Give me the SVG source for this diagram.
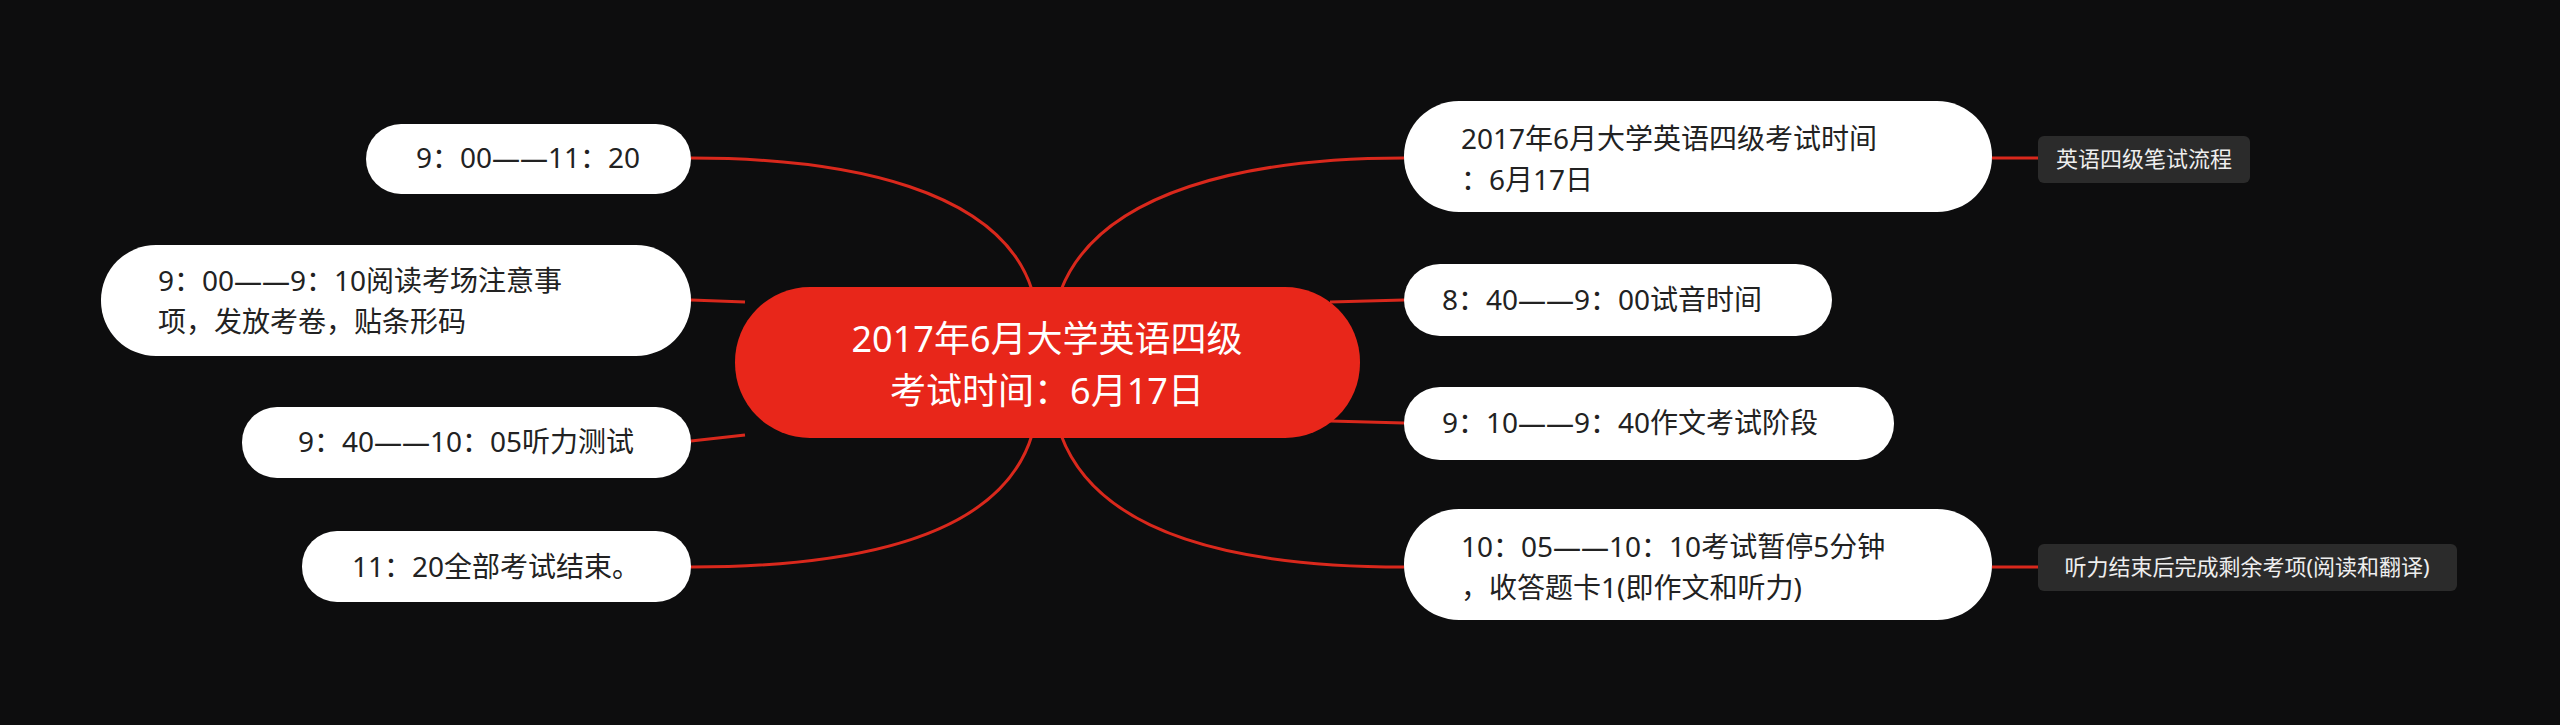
<svg xmlns="http://www.w3.org/2000/svg" width="2560" height="725" viewBox="0 0 2560 725">
<style>
.c{fill:none;stroke:#d9281c;stroke-width:3}
.n{fill:#ffffff}
.t{font-family:"Noto Sans","Noto Sans CJK SC",sans-serif;font-size:28px;fill:#222}
.l{fill:#2b2b2b}
.lt{font-family:"Noto Sans","Noto Sans CJK SC",sans-serif;font-size:22px;fill:#eeeeee}
.ct{font-family:"Noto Sans","Noto Sans CJK SC",sans-serif;font-size:36px;fill:#ffffff}
</style>
<rect width="2560" height="725" fill="#0d0d0e"/>
<g id="connectors">
<path class="c" d="M1032,290 C1000,190 850,158 691,158"/>
<path class="c" d="M745,302 L691,300"/>
<path class="c" d="M745,435 L691,441"/>
<path class="c" d="M1032,435 C1000,540 850,567 691,567"/>
<path class="c" d="M1061,290 C1100,190 1250,158 1404,158"/>
<path class="c" d="M1330,302 L1404,300"/>
<path class="c" d="M1330,421 L1404,423"/>
<path class="c" d="M1061,435 C1100,540 1250,567 1404,567"/>
<path class="c" d="M1992,158 L2038,158"/>
<path class="c" d="M1992,567 L2038,567"/>
</g>
<g id="center"><rect x="735" y="287" width="625" height="151" rx="75" fill="#e8261a"/>
<text class="ct" x="1047" y="352" text-anchor="middle">2017年6月大学英语四级</text>
<text class="ct" x="1047" y="404" text-anchor="middle">考试时间：6月17日</text></g>
<g id="r1"><rect class="n" x="1404" y="101" width="588" height="111" rx="55"/>
<text class="t" x="1461" y="149">2017年6月大学英语四级考试时间</text><text class="t" x="1461" y="190">：6月17日</text></g>
<g id="r2"><rect class="n" x="1404" y="264" width="428" height="72" rx="36"/>
<text class="t" x="1442" y="310">8：40——9：00试音时间</text></g>
<g id="r3"><rect class="n" x="1404" y="387" width="490" height="73" rx="36"/>
<text class="t" x="1442" y="433">9：10——9：40作文考试阶段</text></g>
<g id="r4"><rect class="n" x="1404" y="509" width="588" height="111" rx="55"/>
<text class="t" x="1461" y="557">10：05——10：10考试暂停5分钟</text><text class="t" x="1461" y="598">，收答题卡1(即作文和听力)</text></g>
<g id="lab1"><rect class="l" x="2038" y="136" width="212" height="47" rx="6"/>
<text class="lt" x="2144" y="167" text-anchor="middle">英语四级笔试流程</text></g>
<g id="lab2"><rect class="l" x="2038" y="544" width="419" height="47" rx="6"/>
<text class="lt" x="2247" y="575" text-anchor="middle">听力结束后完成剩余考项(阅读和翻译)</text></g>
<g id="l1"><rect class="n" x="366" y="124" width="325" height="70" rx="35"/>
<text class="t" x="528" y="168" text-anchor="middle">9：00——11：20</text></g>
<g id="l2"><rect class="n" x="101" y="245" width="590" height="111" rx="55"/>
<text class="t" x="158" y="291">9：00——9：10阅读考场注意事</text><text class="t" x="158" y="332">项，发放考卷，贴条形码</text></g>
<g id="l3"><rect class="n" x="242" y="407" width="449" height="71" rx="35"/>
<text class="t" x="466" y="452" text-anchor="middle">9：40——10：05听力测试</text></g>
<g id="l4"><rect class="n" x="302" y="531" width="389" height="71" rx="35"/>
<text class="t" x="496" y="577" text-anchor="middle">11：20全部考试结束。</text></g>
</svg>
